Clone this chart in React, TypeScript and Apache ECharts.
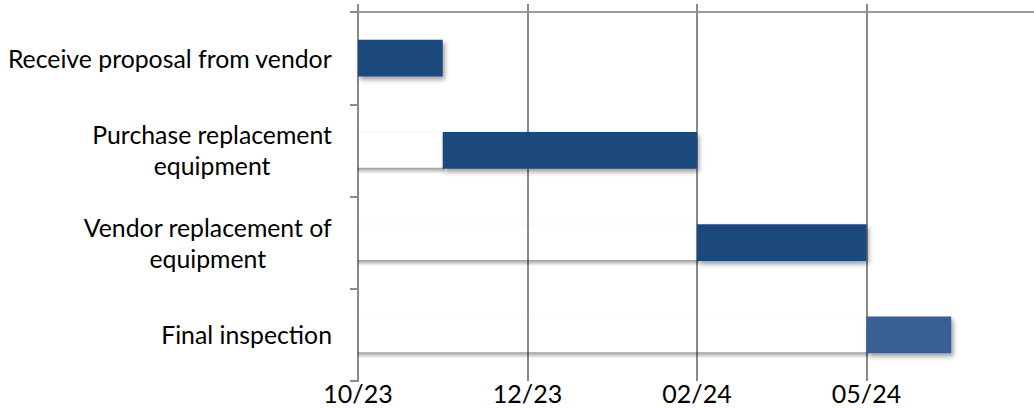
import React, { useEffect, useRef } from "react";
import * as echarts from "echarts";

const categories = [
  "Receive proposal from vendor",
  "Purchase replacement\nequipment",
  "Vendor replacement of\nequipment",
  "Final inspection",
];
// positions in axis units (one unit per tick label)
const startValues = [0, 0.5, 2, 3];
const durationValues = [0.5, 1.5, 1, 0.5];
const tickLabels = ["10/23", "12/23", "02/24", "05/24", ""];
const barColors = ["#1F497D", "#1F497D", "#1F497D", "#376092"];

const FONT = "Lato";

export default function App() {
  const ref = useRef<HTMLDivElement>(null);
  useEffect(() => {
    if (!ref.current) return;
    const chart = echarts.init(ref.current, undefined, { renderer: "svg" });
    const shadowData = startValues
      .map((s, i) => [s, i])
      .filter((d) => d[0] > 0);
    chart.setOption({
      animation: false,
      grid: {
        left: 358,
        top: 12,
        width: 678,
        bottom: 27,
        containLabel: false,
        outerBoundsMode: "none",
      },
      xAxis: [
        {
          type: "value",
          min: 0,
          max: 4,
          interval: 1,
          position: "bottom",
          axisLine: { show: false },
          axisTick: { show: false },
          axisLabel: {
            margin: 1,
            fontFamily: FONT,
            fontSize: 25,
            lineHeight: 22,
            color: "#000",
            formatter: (v: number) => tickLabels[Math.round(v)] ?? "",
          },
          splitLine: { show: true, lineStyle: { color: "#8a8a8a", width: 2 } },
        },
        {
          type: "value",
          min: 0,
          max: 4,
          interval: 1,
          position: "top",
          axisLine: { show: true, lineStyle: { color: "#9a9a9a", width: 2 } },
          axisTick: { show: true, length: 8, lineStyle: { color: "#8a8a8a", width: 2 } },
          axisLabel: { show: false },
          splitLine: { show: false },
        },
      ],
      yAxis: {
        type: "category",
        inverse: true,
        data: categories,
        axisLine: { show: true, lineStyle: { color: "#8a8a8a", width: 2 } },
        axisTick: { show: true, length: 8, lineStyle: { color: "#8a8a8a", width: 2 } },
        splitLine: { show: false },
        axisLabel: {
          margin: 26,
          formatter: (v: string) =>
            v
              .split("\n")
              .map((l) => `{c|${l}}`)
              .join("\n"),
          rich: {
            c: {
              align: "center",
              fontFamily: FONT,
              fontSize: 24.8,
              lineHeight: 31,
              color: "#000",
            },
          },
        },
      },
      series: [
        {
          type: "custom",
          xAxisIndex: 0,
          yAxisIndex: 0,
          z: 1,
          encode: { x: 0, y: 1 },
          data: shadowData,
          renderItem: (params: any, api: any) => {
            const end = api.value(0);
            const cat = api.value(1);
            const p0 = api.coord([0, cat]);
            const p1 = api.coord([end, cat]);
            const band = api.size([0, 1])[1];
            const h = band * 0.4;
            const yb = p0[1] + h / 2;
            return {
              type: "group",
              children: [
                {
                  type: "rect",
                  shape: { x: p0[0], y: p0[1] - h / 2, width: p1[0] - p0[0], height: h },
                  style: { fill: "none", stroke: "rgba(0,0,0,0.03)", lineWidth: 1 },
                },
                {
                  type: "rect",
                  shape: { x: p0[0], y: yb - 1, width: p1[0] - p0[0] + 2, height: 6 },
                  style: {
                    fill: new echarts.graphic.LinearGradient(0, 0, 0, 1, [
                      { offset: 0, color: "rgba(0,0,0,0.38)" },
                      { offset: 0.4, color: "rgba(0,0,0,0.22)" },
                      { offset: 1, color: "rgba(0,0,0,0)" },
                    ]),
                  },
                },
              ],
            };
          },
        },
        {
          type: "bar",
          stack: "g",
          barWidth: "40%",
          z: 2,
          itemStyle: { color: "transparent" },
          emphasis: { disabled: true },
          data: startValues,
        },
        {
          type: "bar",
          stack: "g",
          barWidth: "40%",
          z: 3,
          data: durationValues.map((v, i) => ({
            value: v,
            itemStyle: {
              color: barColors[i],
              shadowColor: "rgba(0,0,0,0.4)",
              shadowBlur: 5,
              shadowOffsetX: 2,
              shadowOffsetY: 3,
            },
          })),
        },
      ],
    });
    return () => chart.dispose();
  }, []);
  return (
    <div
      ref={ref}
      style={{ position: "fixed", left: 0, top: 0, width: 1034, height: 408, background: "#fff" }}
    />
  );
}
